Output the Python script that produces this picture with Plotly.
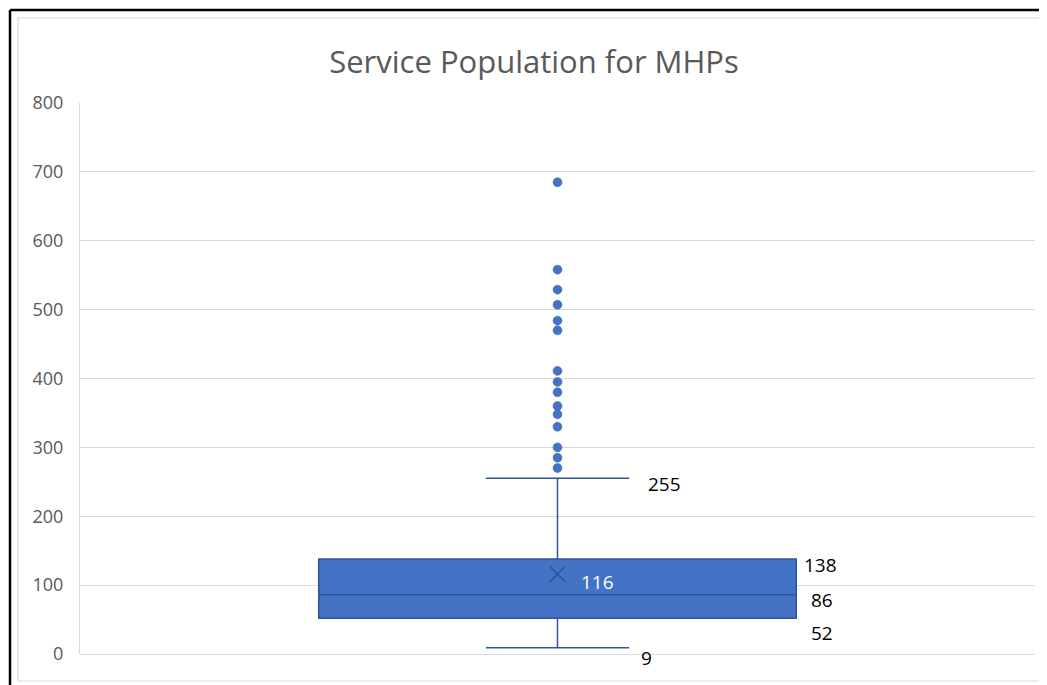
import plotly.graph_objects as go

# ---- data ----
categories = [0]
q1 = [52]
median = [86]
q3 = [138]
lower_fence = [9]
upper_fence = [255]
mean = [116]
outliers = [685, 558, 529, 507, 484, 470, 411, 395, 380, 360, 348, 330, 300, 285, 270]
y_ticks = [0, 100, 200, 300, 400, 500, 600, 700, 800]
Y_MAX = 800

BLUE = "#4472c4"
DARK = "#2f5597"
GREY_TXT = "#595959"
FONT = "Open Sans"

# page is offset by the default 8px body margin
OFF = 8
W, H = 1047 - OFF, 685 - OFF
L, R, T, B = 80 - OFF, 12, 103 - OFF, 31

fig = go.Figure()

fig.add_trace(go.Box(
    x=categories, q1=q1, median=median, q3=q3,
    lowerfence=lower_fence, upperfence=upper_fence,
    boxpoints=False, width=1.0, whiskerwidth=0.3,
    fillcolor=BLUE, line=dict(color=DARK, width=1.5),
    hoverinfo="skip", showlegend=False,
))

fig.add_trace(go.Scatter(
    x=categories * len(outliers), y=outliers, mode="markers",
    marker=dict(color=BLUE, size=9, line=dict(color="#3a64b0", width=0.5)),
    showlegend=False, hoverinfo="skip",
))

fig.add_trace(go.Scatter(
    x=categories, y=mean, mode="markers",
    marker=dict(symbol="x-thin", size=16, line=dict(color=DARK, width=1.5), color=DARK),
    showlegend=False, hoverinfo="skip",
))

# data labels (x in data units, y placed in paper units so labels below 0 still show)
label_specs = [
    (upper_fence[0], 0.225, -8, "black"),
    (q3[0], 0.55, -9, "black"),
    (median[0], 0.554, -8, "black"),
    (q1[0], 0.554, -21.5, "black"),
    (lower_fence[0], 0.187, -15, "black"),
    (mean[0], 0.083, -11.5, "white"),
]
for val, xpos, dy, col in label_specs:
    fig.add_annotation(
        x=xpos, y=(val + dy) / Y_MAX, text=str(val), showarrow=False,
        font=dict(family=FONT, size=19, color=col),
        xref="x", yref="paper", xanchor="center", yanchor="middle",
    )

# outer borders (page pixel -> paper coords)
def px_to_paper_x(px):
    return (px - 80) / 955

def px_to_paper_y(py):
    return (654 - py) / 551

fig.add_shape(type="line", xref="paper", yref="paper",
              x0=px_to_paper_x(10), x1=px_to_paper_x(10),
              y0=px_to_paper_y(10), y1=px_to_paper_y(700),
              line=dict(color="black", width=2.5))
fig.add_shape(type="line", xref="paper", yref="paper",
              x0=px_to_paper_x(10), x1=px_to_paper_x(1060),
              y0=px_to_paper_y(10), y1=px_to_paper_y(10),
              line=dict(color="black", width=2.5))
fig.add_shape(type="rect", xref="paper", yref="paper",
              x0=px_to_paper_x(18), x1=px_to_paper_x(1060),
              y0=px_to_paper_y(681), y1=px_to_paper_y(18),
              line=dict(color="#d9d9d9", width=1.2), layer="below")

fig.update_layout(
    width=W, height=H,
    margin=dict(l=L, r=R, t=T, b=B),
    paper_bgcolor="white", plot_bgcolor="white",
    title=dict(text="Service Population for MHPs", x=(534 - OFF) / W, xanchor="center",
               y=1 - (62 - OFF) / H, yanchor="middle",
               font=dict(family=FONT, size=31, color=GREY_TXT)),
    xaxis=dict(range=[-1, 1], showticklabels=False, showgrid=False, zeroline=False,
               showline=False, ticks=""),
    yaxis=dict(range=[0, Y_MAX], tickvals=y_ticks, ticktext=[str(v) for v in y_ticks],
               showgrid=True, gridcolor="#d9d9d9", gridwidth=1,
               zeroline=True, zerolinecolor="#d9d9d9", zerolinewidth=1,
               showline=True, linecolor="#d9d9d9", linewidth=1,
               ticks="", ticklabelstandoff=12,
               tickfont=dict(family=FONT, size=18, color=GREY_TXT)),
)

fig.write_html("out.html")
